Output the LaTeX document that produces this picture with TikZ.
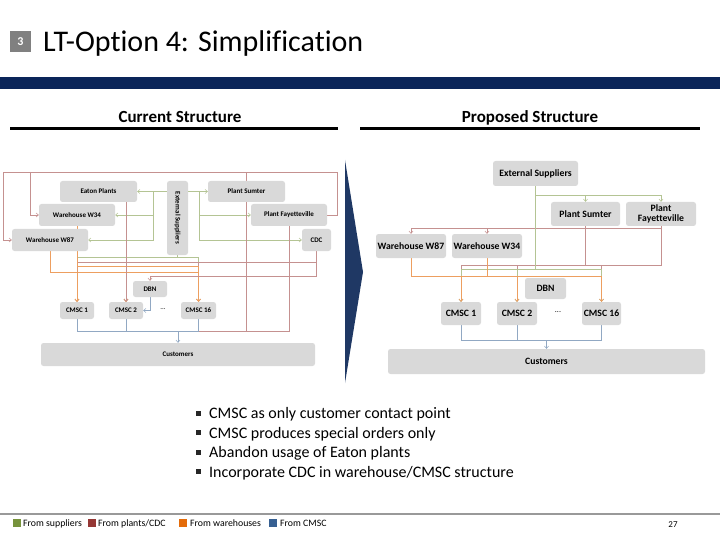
\documentclass[tikz,border=0pt]{standalone}
\usepackage{fontspec}
\setmainfont[Ligatures={NoCommon,NoContextual}, RawFeature={-liga;-clig;-calt}]{Carlito}
\usetikzlibrary{arrows.meta,backgrounds}

\definecolor{bandblue}{HTML}{0B2559}
\definecolor{chevblue}{HTML}{1F3864}
\definecolor{boxgrey}{HTML}{D9D9D9}
\definecolor{fromsup}{HTML}{77933C}
\definecolor{fromplant}{HTML}{953735}
\definecolor{fromwh}{HTML}{E46C0A}
\definecolor{fromcmsc}{HTML}{376092}

\tikzset{
  sbox/.style={fill=boxgrey, rounded corners=2.5pt, inner sep=1pt, align=center,
    font=\fontsize{7}{8}\selectfont\bfseries},
  pbox/.style={sbox, font=\fontsize{9.7}{10.5}\selectfont\bfseries},
  sup/.style={fromsup!55, line width=0.6pt},
  plant/.style={fromplant!55, line width=0.6pt},
  wh/.style={fromwh!65, line width=0.6pt},
  cmsc/.style={fromcmsc!55, line width=0.6pt},
  tip/.style={-{Straight Barb[length=2.2pt,width=4pt]}},
  legsq/.style={minimum size=8pt, inner sep=0pt},
  legtxt/.style={anchor=base west, inner sep=0pt, font=\fontsize{9.8}{11}\selectfont},
  bul/.style={anchor=base west, inner sep=0pt, font=\fontsize{16}{18}\selectfont},
  bulsq/.style={fill=black!85, minimum size=5pt, inner sep=0pt},
  heading/.style={anchor=base, inner sep=0pt, font=\fontsize{17}{19}\selectfont\bfseries},
}

\begin{document}
\begin{tikzpicture}[x=1pt, y=-1pt]
\useasboundingbox (0,0) rectangle (720,540);

% title
\node[fill=black!50, text=white, minimum size=21pt, inner sep=0pt,
  font=\fontsize{12}{12}\selectfont\bfseries] (num) at (20.5,41.5) {3};
\node[anchor=base west, inner sep=0pt, font=\fontsize{30}{31}\selectfont] (title) at (43,52)
  {LT-Opt\kern0pt ion 4: Simplificat\kern0pt ion};
\fill[bandblue] (0,77) rectangle (720,89);

% headings
\node[heading] (cur) at (180,123) {Current Structure};
\node[heading] (prop) at (530,123) {Proposed Structure};
\draw[line width=2.2pt] (10,128.5) -- (338,128.5);
\draw[line width=2.2pt] (360,128.5) -- (700,128.5);

% current structure
\node[sbox, minimum width=77, minimum height=21] (ep) at (98.5,191.5) {Eaton Plants};
\node[sbox, minimum width=76, minimum height=22] (w34) at (77,215) {Warehouse W34};
\node[sbox, minimum width=76, minimum height=22] (w87) at (50,240) {Warehouse W87};
\node[sbox, minimum width=21, minimum height=74] (es) at (177.5,218) {\rotatebox{-90}{External Suppliers}};
\node[sbox, minimum width=77, minimum height=21] (ps) at (246.5,191.5) {Plant Sumter};
\node[sbox, minimum width=76, minimum height=22] (pf) at (289,215) {Plant Fayetteville};
\node[sbox, minimum width=29, minimum height=22] (cdc) at (316.5,240) {CDC};
\node[sbox, minimum width=34, minimum height=16] (dbn) at (150,289) {DBN};
\node[sbox, minimum width=34, minimum height=17] (c1) at (77,310.5) {CMSC 1};
\node[sbox, minimum width=34, minimum height=17] (c2) at (126,310.5) {CMSC 2};
\node[font=\fontsize{7}{8}\selectfont] (dots) at (163,309) {...};
\node[sbox, minimum width=35, minimum height=17] (c16) at (198.5,310.5) {CMSC 16};
\node[sbox, minimum width=274, minimum height=23] (cu) at (178,354.5) {Customers};
\coordinate (loop) at (30,172);
\coordinate (cbus) at (178,331);

\begin{scope}[on background layer]
  \draw[plant, tip] (pf.east) -- ++(10,0) |- (3,172) |- (w87.west);
  \draw[plant, tip] (loop) |- (w34.west);
  \draw[plant] (ps.north) -- ++(0,-9);
  \draw[sup, tip] (es.west |- ep.east) -- (ep.east);
  \draw[sup, tip] (es.west |- ep.east) -- ++(-14,0) |- (w34.east);
  \draw[sup, tip] (es.west |- ep.east) -- ++(-14,0) |- (w87.east);
  \draw[sup, tip] (es.east |- ps.west) -- (ps.west);
  \draw[sup, tip] (es.east |- ps.west) -- ++(11,0) |- (pf.west);
  \draw[sup, tip] (es.east |- ps.west) -- ++(11,0) |- (cdc.west);
  \foreach \c in {c1,c2,c16} {
    \draw[sup, tip] (es.south) -- ++(0,2) -| (\c.north);
    \draw[plant, tip] (cdc.south) -- ++(0,11) -| (\c.north);
    \draw[wh, tip] (w34.south) -- ++(0,40) -| (\c.north);
    \draw[wh, tip] (w87.south) -- ++(0,21) -| (\c.north);
  }
  \draw[plant, tip] (ep.south -| c2.north) -- (c2.north);
  \draw[plant, tip] (cdc.south) -- ++(0,25) -| (dbn.north);
  \draw[cmsc, tip] (dbn.south) |- (c2.east);
  \draw[plant] (ps.south) |- (cbus);
  \draw[plant] (pf.south) |- (cbus);
  \foreach \c in {c1,c2,c16}
    \draw[cmsc] (\c.south) |- (cbus);
  \draw[cmsc, tip] (cbus) -- (cu.north);
\end{scope}

% arrow between the panels
\fill[chevblue] (345,160) -- (363,272) -- (345,383) -- cycle;

% proposed structure
\node[pbox, minimum width=85, minimum height=25] (pes) at (535.5,173.5) {External Suppliers};
\node[pbox, minimum width=69, minimum height=24] (pps) at (585.5,214) {Plant Sumter};
\node[pbox, minimum width=70, minimum height=24] (ppf) at (661,214) {Plant\\Fayetteville};
\node[pbox, minimum width=70, minimum height=24] (pw87) at (411,246) {Warehouse W87};
\node[pbox, minimum width=70, minimum height=24] (pw34) at (487,246) {Warehouse W34};
\node[pbox, minimum width=41, minimum height=21] (pdbn) at (545.5,288.5) {DBN};
\node[pbox, minimum width=40, minimum height=23] (pc1) at (461,313.5) {CMSC 1};
\node[pbox, minimum width=40, minimum height=23] (pc2) at (517,313.5) {CMSC 2};
\node[font=\fontsize{8}{9}\selectfont] (pdots) at (558,312) {...};
\node[pbox, minimum width=39, minimum height=23] (pc16) at (601.5,313.5) {CMSC 16};
\node[pbox, minimum width=317, minimum height=25] (pcu) at (546.5,361.5) {Customers};
\coordinate (pbus) at (546.5,340);

\begin{scope}[on background layer]
  \draw[sup, tip] (pes.south) -- ++(0,9) -| (pps.north);
  \draw[sup, tip] (pes.south) -- ++(0,9) -| (ppf.north);
  \draw[plant, tip] (ppf.south) -- ++(0,2) -| (pw87.north);
  \draw[plant, tip] (ppf.south) -- ++(0,2) -| (pw34.north);
  \foreach \c in {pc1,pc2,pc16} {
    \draw[plant, tip] (ppf.south) -- ++(0,39) -| (\c.north);
    \draw[sup, tip] (pes.south) -- ++(0,83) -| (\c.north);
    \draw[wh, tip] (pw87.south) -- ++(0,18) -| (\c.north);
    \draw[cmsc] (\c.south) |- (pbus);
  }
  \draw[plant] (pps.south) -- ++(0,39);
  \draw[wh] (pw34.south) -- ++(0,18);
  \draw[cmsc, tip] (pbus) -- (pcu.north);
\end{scope}

% bullets
\node[bulsq] (sq1) at (198.5,413) {};
\node[bul] (b1) at (209,418.5) {CMSC as only customer contact point};
\node[bulsq] (sq2) at (198.5,432.5) {};
\node[bul] (b2) at (209,438) {CMSC produces special orders only};
\node[bulsq] (sq3) at (198.5,452) {};
\node[bul] (b3) at (209,457.5) {Abandon usage of Eaton plants};
\node[bulsq] (sq4) at (198.5,471.5) {};
\node[bul] (b4) at (209,477) {Incorporate CDC in warehouse/CMSC structure};

% legend
\draw[black!40, line width=2pt] (0,513.5) -- (720,513.5);
\node[legsq, fill=fromsup] (lg1) at (17,523) {};
\node[legtxt] (lt1) at (23,526.5) {From suppliers};
\node[legsq, fill=fromplant] (lg2) at (91.5,523) {};
\node[legtxt] (lt2) at (98,526.5) {From plants/CDC};
\node[legsq, fill=fromwh] (lg3) at (182.5,523) {};
\node[legtxt] (lt3) at (190,526.5) {From warehouses};
\node[legsq, fill=fromcmsc] (lg4) at (273,523) {};
\node[legtxt] (lt4) at (280,526.5) {From CMSC};
\node[font=\fontsize{9}{10}\selectfont] (page) at (673,524.5) {27};
\end{tikzpicture}
\end{document}
